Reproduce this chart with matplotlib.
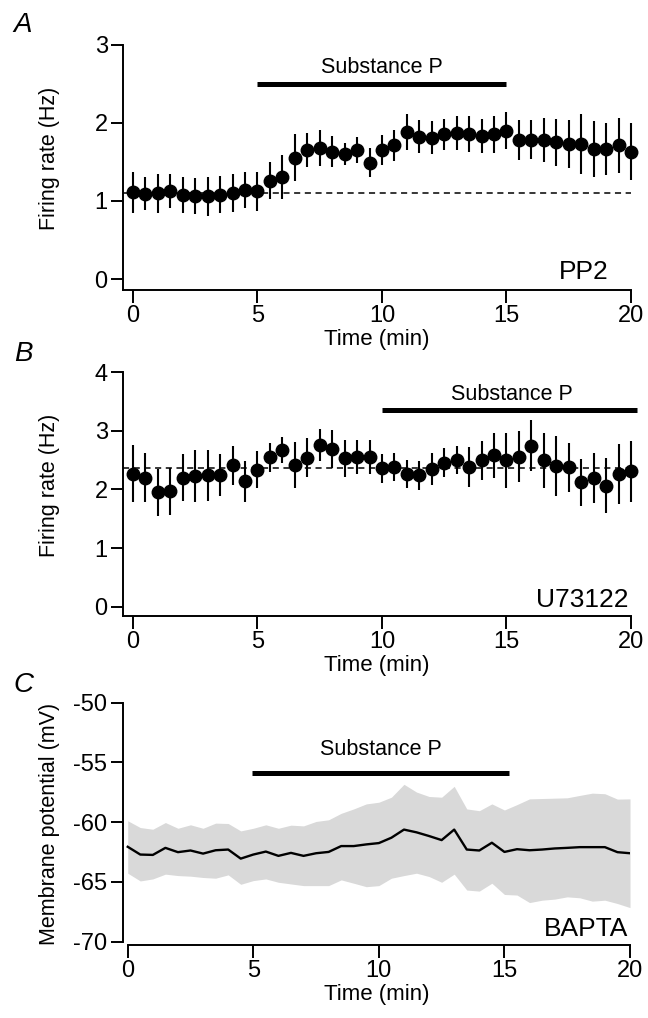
import matplotlib
matplotlib.use("Agg")
import matplotlib.pyplot as plt
import numpy as np

plt.rcParams['font.family'] = ['Liberation Sans', 'DejaVu Sans']
plt.rcParams['font.size'] = 15.5
plt.rcParams['axes.unicode_minus'] = False

# time points (min), one every 30 s
time = np.arange(0, 20.01, 0.5)

# A: PP2, firing rate (Hz) mean and error
pp2_rate = [1.11, 1.09, 1.10, 1.13, 1.07, 1.06, 1.06, 1.08, 1.10, 1.14,
            1.12, 1.26, 1.31, 1.55, 1.65, 1.68, 1.63, 1.60, 1.65, 1.49,
            1.65, 1.71, 1.88, 1.82, 1.81, 1.85, 1.87, 1.86, 1.83, 1.85,
            1.90, 1.78, 1.78, 1.78, 1.75, 1.73, 1.73, 1.66, 1.66, 1.71,
            1.63]
pp2_err = [0.26, 0.21, 0.25, 0.22, 0.23, 0.23, 0.25, 0.24, 0.24, 0.23,
           0.25, 0.24, 0.28, 0.30, 0.22, 0.23, 0.20, 0.14, 0.17, 0.19,
           0.19, 0.20, 0.23, 0.21, 0.21, 0.20, 0.22, 0.23, 0.22, 0.24,
           0.24, 0.26, 0.25, 0.28, 0.30, 0.31, 0.38, 0.36, 0.33, 0.35,
           0.36]
pp2_baseline = 1.10

# B: U73122
u73_rate = [2.27, 2.20, 1.95, 1.97, 2.20, 2.23, 2.24, 2.25, 2.41, 2.14,
            2.34, 2.55, 2.67, 2.42, 2.54, 2.76, 2.69, 2.53, 2.55, 2.56,
            2.36, 2.38, 2.27, 2.24, 2.35, 2.46, 2.50, 2.38, 2.50, 2.58,
            2.50, 2.56, 2.75, 2.50, 2.40, 2.38, 2.12, 2.20, 2.06, 2.27,
            2.31]
u73_err = [0.49, 0.42, 0.40, 0.40, 0.40, 0.44, 0.43, 0.36, 0.33, 0.35,
           0.32, 0.25, 0.22, 0.39, 0.33, 0.27, 0.32, 0.31, 0.29, 0.29,
           0.25, 0.24, 0.24, 0.25, 0.28, 0.25, 0.24, 0.34, 0.33, 0.39,
           0.47, 0.43, 0.43, 0.47, 0.51, 0.42, 0.40, 0.43, 0.47, 0.51,
           0.52]
u73_baseline = 2.37

# C: BAPTA, membrane potential (mV) mean and band
bapta_vm = [-62.06, -62.71, -62.74, -62.15, -62.51, -62.37, -62.63, -62.35, -62.29, -63.05,
            -62.71, -62.46, -62.82, -62.57, -62.82, -62.60, -62.49, -62.00, -62.00, -61.86,
            -61.75, -61.30, -60.62, -60.85, -61.16, -61.50, -60.62, -62.29, -62.37, -61.72,
            -62.49, -62.26, -62.35, -62.29, -62.20, -62.15, -62.09, -62.09, -62.09, -62.51,
            -62.60]
bapta_upper = [-59.88, -60.45, -60.59, -60.03, -60.51, -60.22, -60.51, -60.08, -60.11, -60.73,
               -60.51, -60.22, -60.51, -60.25, -60.31, -59.94, -59.80, -59.26, -58.89, -58.47,
               -58.33, -57.91, -56.83, -57.48, -57.85, -57.91, -57.00, -58.89, -59.04, -58.47,
               -58.98, -58.53, -58.05, -58.02, -57.99, -57.96, -57.76, -57.57, -57.62, -58.07,
               -58.05]
bapta_lower = [-64.27, -64.92, -64.75, -64.35, -64.47, -64.52, -64.63, -64.69, -64.41, -65.20,
               -64.89, -64.75, -65.03, -65.17, -65.31, -65.31, -65.31, -64.83, -65.11, -65.40,
               -65.31, -64.69, -64.47, -64.27, -64.55, -65.03, -64.35, -65.68, -65.77, -65.11,
               -66.05, -66.10, -66.73, -66.53, -66.44, -66.25, -66.33, -66.61, -66.53, -66.81,
               -67.15]

W, H = 648, 1018
fig = plt.figure(figsize=(W / 100, H / 100), dpi=100)


def px_axes(left, right, top, bottom):
    return fig.add_axes([left / W, (H - bottom) / H, (right - left) / W, (bottom - top) / H])


def style(ax):
    for s in ['top', 'right']:
        ax.spines[s].set_visible(False)
    for s in ['left', 'bottom']:
        ax.spines[s].set_linewidth(1.4)
    ax.tick_params(direction='out', length=9, width=1.4, pad=2, labelsize=17)
    ax.set_xticks([0, 5, 10, 15, 20])
    ax.set_xlabel('Time (min)', labelpad=1, fontsize=16)


def rate_panel(ax, rate, err, base, ymax):
    ax.plot([-0.4, 20], [base, base], color='black', lw=1.1,
            linestyle=(0, (4, 3)), zorder=1)
    bars = ax.errorbar(time, rate, yerr=err, fmt='o', color='black', ms=9,
                       elinewidth=1.5, capsize=0, zorder=3)
    for artist in bars.get_children():
        artist.set_clip_on(False)
    ax.set_yticks(np.arange(0, ymax + 1))
    ax.set_ylabel('Firing rate (Hz)', fontsize=15.5)


# A
axA = px_axes(123, 631, 44.5, 290)
style(axA)
rate_panel(axA, pp2_rate, pp2_err, pp2_baseline, 3)
axA.set_xlim(-0.4, 20)
axA.set_ylim(-0.14, 3)
axA.plot([5, 15], [2.50, 2.50], color='black', lw=3.6, solid_capstyle='butt')
axA.text(10, 2.64, 'Substance P', ha='center', va='baseline', fontsize=15.5)
axA.text(19.1, 0.0, 'PP2', ha='right', va='baseline', fontsize=19)
axA.yaxis.set_label_coords(-0.124, 0.536)

# B
axB = px_axes(123, 631, 372.3, 616)
style(axB)
rate_panel(axB, u73_rate, u73_err, u73_baseline, 4)
axB.set_xlim(-0.4, 20)
axB.set_ylim(-0.16, 4)
axB.plot([10, 20.25], [3.35, 3.35], color='black', lw=3.6,
         solid_capstyle='butt', clip_on=False)
axB.text(15.2, 3.53, 'Substance P', ha='center', va='baseline', fontsize=15.5)
axB.text(19.9, 0.0, 'U73122', ha='right', va='baseline', fontsize=19)
axB.yaxis.set_label_coords(-0.124, 0.537)

# C
axC = px_axes(122.7, 630, 702.7, 945)
style(axC)
axC.fill_between(time, bapta_lower, bapta_upper, color='#d9d9d9', lw=0)
axC.plot(time, bapta_vm, color='black', lw=1.7)
axC.set_xlim(-0.2, 20)
axC.set_ylim(-70.28, -50)
axC.set_yticks([-70, -65, -60, -55, -50])
axC.spines['left'].set_bounds(-70, -50)
axC.spines['bottom'].set_bounds(0, 20)
axC.plot([4.95, 15.2], [-55.9, -55.9], color='black', lw=3.6, solid_capstyle='butt')
axC.text(10.1, -54.4, 'Substance P', ha='center', va='baseline', fontsize=15.5)
axC.text(19.95, -69.5, 'BAPTA', ha='right', va='baseline', fontsize=19)
axC.set_ylabel('Membrane potential (mV)', fontsize=15.5)
axC.yaxis.set_label_coords(-0.124, 0.5)

for lab, y in [('A', 25), ('B', 354), ('C', 685)]:
    fig.text(23 / W, 1 - y / H, lab, fontstyle='italic', fontsize=20,
             ha='center', va='center')

fig.savefig('out.png', dpi=100)
